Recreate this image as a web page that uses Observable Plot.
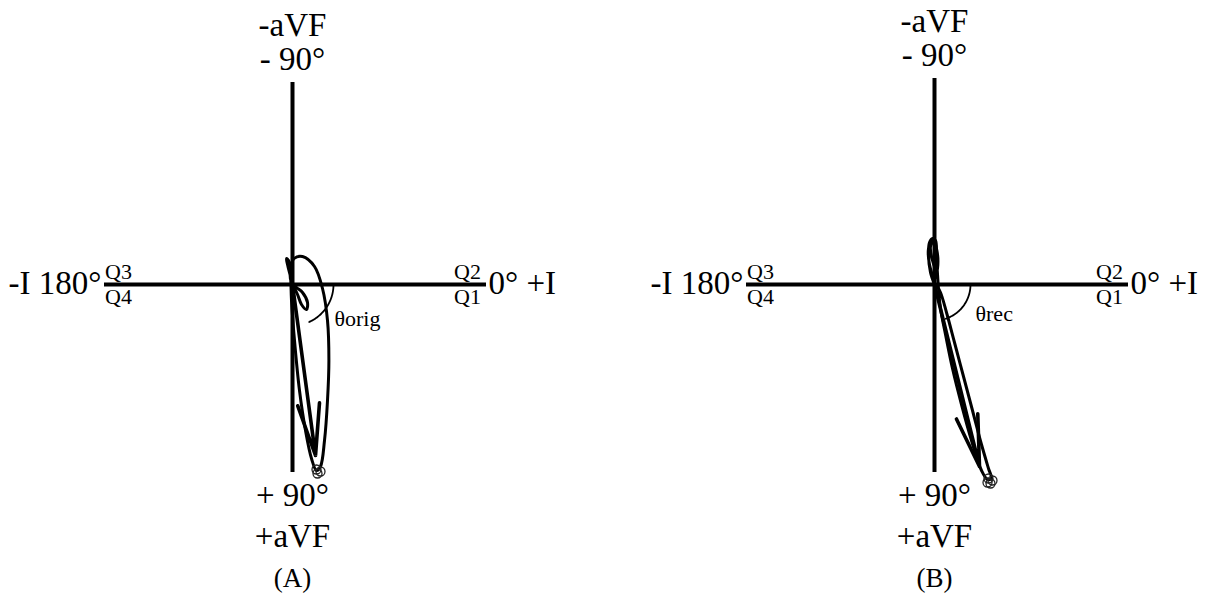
<!DOCTYPE html>
<html>
<head>
<meta charset="utf-8">
<script src="https://cdn.jsdelivr.net/npm/d3@7"></script>
<script src="https://cdn.jsdelivr.net/npm/@observablehq/plot@0.6"></script>
<style>
  html, body { margin: 0; padding: 0; background: #fff; }
  #wrap { position: relative; width: 1230px; height: 594px; overflow: hidden; }
  .panel { position: absolute; top: 0; }
</style>
</head>
<body>
<div id="wrap"></div>
<script>
// Frontal-plane loops: x = lead I (right positive), y = aVF (down positive)
const loopOrig = [
  [0, 0], [-0.01, -0.04], [-0.025, -0.10], [-0.03, -0.13], [-0.02, -0.12],
  [-0.01, -0.045], [-0.005, 0.08], [0.01, 0.28], [0.035, 0.53], [0.065, 0.73],
  [0.095, 0.87], [0.12, 0.93], [0.14, 0.91], [0.16, 0.78], [0.175, 0.58],
  [0.182, 0.38], [0.175, 0.18], [0.15, 0.02], [0.11, -0.09], [0.05, -0.14],
  [0.008, -0.13], [-0.01, -0.08], [-0.005, -0.01], [0.02, 0.015], [0.05, 0.04],
  [0.075, 0.09], [0.07, 0.125], [0.045, 0.10], [0.025, 0.05], [0.01, 0.02], [0, 0]
];
const loopRec = [
  [0, 0], [-0.02, -0.06], [-0.03, -0.15], [-0.025, -0.21], [-0.01, -0.23],
  [0.005, -0.22], [0.01, -0.15], [0.005, -0.08], [-0.01, -0.12], [-0.02, -0.19],
  [-0.005, -0.215], [0.012, -0.17], [0.015, -0.08], [0.0, -0.03], [-0.025, -0.10],
  [-0.03, -0.18], [-0.015, -0.225], [0.0, -0.20], [0.01, -0.12], [0.02, 0.02],
  [0.03, 0.12], [0.055, 0.25], [0.09, 0.42], [0.135, 0.60], [0.185, 0.78],
  [0.235, 0.93], [0.265, 0.975], [0.285, 0.97], [0.27, 0.92], [0.235, 0.80],
  [0.19, 0.63], [0.145, 0.46], [0.10, 0.29], [0.06, 0.14], [0.03, 0.04],
  [0.01, 0.005], [0, 0]
];

// Mean vector tips
const vectorOrig = [0.115, 0.855];
const vectorRec = [0.225, 0.91];

// Terminal sample points
const endsOrig = [[0.12, 0.925], [0.14, 0.935], [0.125, 0.945]];
const endsRec = [[0.27, 0.97], [0.29, 0.98], [0.28, 0.995], [0.265, 0.99]];

// Angle arcs (degrees, measured clockwise from 0°)
const arcOrigDeg = 66;
const arcRecDeg = 72;

// Text
const leadLabels = ["-aVF", "- 90°", "+ 90°", "+aVF", "-I 180°", "0° +I"];
const quadrantLabels = ["Q1", "Q2", "Q3", "Q4"];
const angleLabels = ["θorig", "θrec"];
const panelTitles = ["(A)", "(B)"];

const serif = "'Liberation Serif', 'Times New Roman', serif";

function panel({loop, vector, ends, arcDeg, arcR, angleLabel, anglePos, title, topShift}) {
  const arc = d3.range(0, arcDeg + 0.001, 1).map(a => {
    const t = a * Math.PI / 180;
    return [arcR * Math.cos(t), arcR * Math.sin(t)];
  });
  const txt = (s, x, y, o = {}) => Plot.text([s], {
    x, y, text: d => d, fill: "#000", fontFamily: serif, fontSize: 33, ...o
  });
  return Plot.plot({
    width: 588,
    height: 594,
    margin: 0,
    x: {domain: [-1.46, 1.48], axis: null},
    y: {domain: [-1.42, 1.55], reverse: true, axis: null},
    style: {background: "transparent", overflow: "visible", fontFamily: serif},
    marks: [
      Plot.ruleY([0], {x1: -0.94, x2: 0.97, stroke: "#000", strokeWidth: 4}),
      Plot.ruleX([0], {y1: -1.01 - topShift / 200, y2: 0.94, stroke: "#000", strokeWidth: 4}),
      Plot.line(loop, {x: d => d[0], y: d => d[1], stroke: "#000", strokeWidth: 3, curve: "catmull-rom"}),
      Plot.arrow([vector], {x1: 0, y1: 0, x2: d => d[0], y2: d => d[1], stroke: "#000", strokeWidth: 3.6, headLength: 22, headAngle: 24}),
      Plot.dot(ends, {x: d => d[0], y: d => d[1], r: 4.5, stroke: "#222", fill: "none", strokeWidth: 1.3}),
      Plot.line(arc, {x: d => d[0], y: d => d[1], stroke: "#000", strokeWidth: 1.8}),
      txt(leadLabels[0], 0, -1.295 - topShift / 200),
      txt(leadLabels[1], 0, -1.125 - topShift / 200),
      txt(leadLabels[2], 0, 1.055),
      txt(leadLabels[3], 0, 1.26),
      txt(leadLabels[4], -0.955, -0.005, {textAnchor: "end"}),
      txt(leadLabels[5], 0.98, -0.005, {textAnchor: "start"}),
      txt(quadrantLabels[2], -0.87, -0.065, {fontSize: 22}),
      txt(quadrantLabels[3], -0.87, 0.062, {fontSize: 22}),
      txt(quadrantLabels[1], 0.875, -0.065, {fontSize: 22}),
      txt(quadrantLabels[0], 0.875, 0.062, {fontSize: 22}),
      txt(angleLabel, anglePos[0], anglePos[1], {fontSize: 22, textAnchor: "start"}),
      txt(title, 0, 1.47, {fontSize: 27})
    ]
  });
}

const wrap = document.getElementById("wrap");
const a = panel({
  loop: loopOrig, vector: vectorOrig, ends: endsOrig, arcDeg: arcOrigDeg, arcR: 0.205,
  angleLabel: angleLabels[0], anglePos: [0.21, 0.17], title: panelTitles[0], topShift: 0
});
a.classList.add("panel");
a.style.left = "0px";
wrap.appendChild(a);

const b = panel({
  loop: loopRec, vector: vectorRec, ends: endsRec, arcDeg: arcRecDeg, arcR: 0.18,
  angleLabel: angleLabels[1], anglePos: [0.205, 0.145], title: panelTitles[1], topShift: 4
});
b.classList.add("panel");
b.style.left = "642px";
wrap.appendChild(b);
</script>
</body>
</html>
